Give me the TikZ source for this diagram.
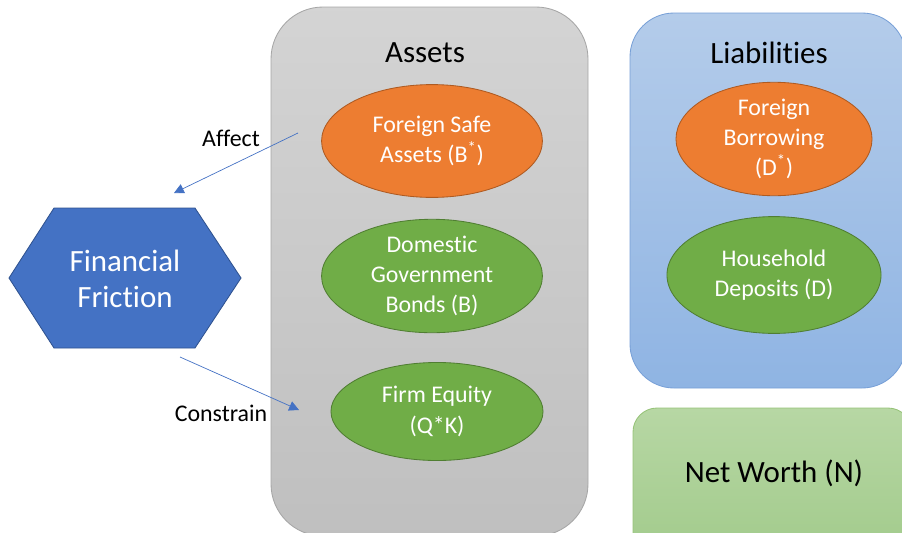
\documentclass[tikz,border=0pt]{standalone}
\usepackage{fontspec}
\setmainfont{Carlito}[Ligatures=NoCommon]
\usetikzlibrary{shapes.geometric,arrows.meta}

\definecolor{accblue}{HTML}{4472C4}
\definecolor{accblueline}{HTML}{2F528F}
\definecolor{accorange}{HTML}{ED7D31}
\definecolor{accorangeline}{HTML}{AE5A21}
\definecolor{accgreen}{HTML}{70AD47}
\definecolor{accgreenline}{HTML}{507E32}

\tikzset{
  panel/.style={line width=0.6pt},
  item/.style={ellipse,inner sep=0pt,line width=0.6pt,text=white,align=center,
    font=\fontsize{17}{21.5}\selectfont},
  orangeitem/.style={item,fill=accorange,draw=accorangeline},
  greenitem/.style={item,fill=accgreen,draw=accgreenline},
  heading/.style={font=\fontsize{22}{26}\selectfont},
  tag/.style={font=\fontsize{17}{21}\selectfont},
  link/.style={accblue,line width=0.5pt,-{Triangle[length=7pt,width=7pt]}}
}

\begin{document}
\begin{tikzpicture}[x=0.025cm,y=-0.025cm]
	\useasboundingbox (0,0) rectangle (902,533);
	\clip (0,0) rectangle (902,533);
	% balance sheet panels
	\draw[panel,draw=black!35,top color=black!17,bottom color=black!25,rounded corners=1.3cm] (271,7) rectangle (588,536);
	\draw[panel,draw={rgb,255:red,120;green,160;blue,215},top color={rgb,255:red,180;green,204;blue,234},bottom color={rgb,255:red,143;green,180;blue,227},rounded corners=1.1cm] (630,13) rectangle (906,388);
	\draw[panel,draw={rgb,255:red,150;green,195;blue,120},top color={rgb,255:red,183;green,215;blue,164},bottom color={rgb,255:red,157;green,200;blue,134},rounded corners=0.6cm] (633,408) rectangle (912,590);
	\node[heading] (assets) at (425,53) {Assets};
	\node[heading] (liab) at (769,53) {Liabilities};
	\node[heading] (networth) at (774,473) {Net Worth (N)};
	% assets
	\node[orangeitem,minimum width=5.52cm,minimum height=2.82cm] (fsa) at (432,141) {Foreign Safe\\Assets (B\textsuperscript{*})};
	\node[greenitem,minimum width=5.52cm,minimum height=2.8cm] (dgb) at (432,276) {Domestic\\Government\\Bonds (B)};
	\node[greenitem,minimum width=5.3cm,minimum height=2.45cm] (equity) at (437,411.5) {Firm Equity\\(Q*K)};
	% liabilities
	\node[orangeitem,minimum width=4.9cm,minimum height=2.8cm] (fb) at (774,139) {Foreign\\Borrowing\\(D\textsuperscript{*})};
	\node[greenitem,minimum width=5.35cm,minimum height=2.92cm] (hd) at (774,275) {Household\\Deposits (D)};
	% friction
	\draw[fill=accblue,draw=accblueline,line width=0.6pt] (9,278) -- (54,208) -- (195,208) -- (241,278) -- (195,348) -- (54,348) -- cycle;
	\node[heading,text=white,align=center] (fric) at (125,279) {Financial\\Friction};
	\coordinate (affectfrom) at (298,133);
	\coordinate (affectto) at (174,193);
	\coordinate (constrfrom) at (180,357);
	\coordinate (constrto) at (299,410);
	\draw[link] (affectfrom) -- (affectto);
	\draw[link] (constrfrom) -- (constrto);
	\node[tag] (affect) at (231,138) {Affect};
	\node[tag] (constr) at (221,413) {Constrain};
\end{tikzpicture}
\end{document}
